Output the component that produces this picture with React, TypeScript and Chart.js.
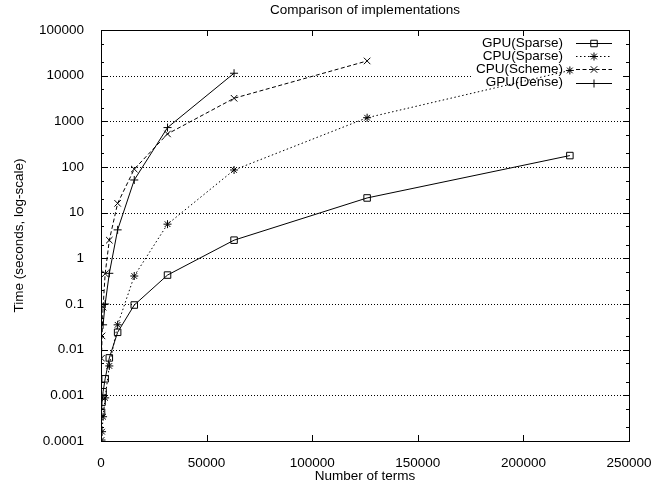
import React, { useEffect, useRef } from 'react';
import { Chart, registerables } from 'chart.js';

Chart.register(...registerables);

const chartTitle = 'Comparison of implementations';
const xAxisTitle = 'Number of terms';
const yAxisTitle = 'Time (seconds, log-scale)';

const gpuSparseTerms = [246, 492, 984, 1968, 3937, 7875, 15750, 31500, 63000, 126000, 222000];
const gpuSparseTimes = [0.00043, 0.00071, 0.0012, 0.0023, 0.0066, 0.024, 0.095, 0.43, 2.5, 21, 178];
const cpuSparseTerms = [246, 492, 984, 1968, 3937, 7875, 15750, 31500, 63000, 126000, 222000];
const cpuSparseTimes = [0.000105, 0.00016, 0.00034, 0.00088, 0.0044, 0.035, 0.41, 5.6, 86, 1200, 13000];
const cpuSchemeTerms = [246, 492, 984, 1968, 3937, 7875, 15750, 31500, 63000, 126000];
const cpuSchemeTimes = [0.0065, 0.02, 0.085, 0.46, 2.5, 16, 90, 530, 3200, 21000];
const gpuDenseTerms = [984, 1968, 3937, 7875, 15750, 31500, 63000];
const gpuDenseTimes = [0.035, 0.1, 0.47, 4.2, 52, 730, 11300];

const xTickValues = [0, 50000, 100000, 150000, 200000, 250000];
const xTickLabels = ['0', '50000', '100000', '150000', '200000', '250000'];
const yDecades = [0.0001, 0.001, 0.01, 0.1, 1, 10, 100, 1000, 10000, 100000];
const yTickLabels = ['0.0001', '0.001', '0.01', '0.1', '1', '10', '100', '1000', '10000', '100000'];
const yMinorMantissas = [2, 5];
const seriesLabels = ['GPU(Sparse)', 'CPU(Sparse)', 'CPU(Scheme)', 'GPU(Dense)'];

const FONT = "'Liberation Sans', Arial, Helvetica, sans-serif";
const FS = 13.5;

const KEY = { left: 472, top: 35, bottom: 90, textRight: 563, lineStart: 576, lineEnd: 612, markX: 594, row0: 43, rowStep: 13.2 };

const toPoints = (xs: number[], ys: number[]) => xs.map((x, i) => ({ x, y: ys[i] }));

function drawMarker(ctx: CanvasRenderingContext2D, style: string, r: number, x: number, y: number) {
  ctx.beginPath();
  const c = Math.SQRT1_2 * r;
  if (style === 'rect') {
    ctx.rect(x - c, y - c, 2 * c, 2 * c);
  } else if (style === 'cross' || style === 'star') {
    ctx.moveTo(x - r, y); ctx.lineTo(x + r, y);
    ctx.moveTo(x, y - r); ctx.lineTo(x, y + r);
  }
  if (style === 'crossRot' || style === 'star') {
    ctx.moveTo(x - c, y - c); ctx.lineTo(x + c, y + c);
    ctx.moveTo(x + c, y - c); ctx.lineTo(x - c, y + c);
  }
  ctx.stroke();
}

const gnuplotPlugin = {
  id: 'gnuplotLook',
  beforeDatasetsDraw(chart: any) {
    const { ctx, chartArea: a, scales } = chart;
    const ys = scales.y;
    ctx.save();
    ctx.strokeStyle = '#000';
    ctx.lineWidth = 1;
    ctx.setLineDash([1, 2]);
    yDecades.forEach((d) => {
      const py = Math.round(ys.getPixelForValue(d)) + 0.5;
      if (py <= a.top + 1 || py >= a.bottom - 1) return;
      const xEnd = py > KEY.top && py < KEY.bottom ? KEY.left : a.right;
      ctx.beginPath();
      ctx.moveTo(a.left, py);
      ctx.lineTo(xEnd, py);
      ctx.stroke();
    });
    ctx.restore();
  },
  afterDatasetsDraw(chart: any) {
    const { ctx, chartArea: a, scales } = chart;
    const xs = scales.x;
    const ys = scales.y;
    const L = Math.round(a.left), R = Math.round(a.right), T = Math.round(a.top), B = Math.round(a.bottom);
    ctx.save();
    ctx.strokeStyle = '#000';
    ctx.lineWidth = 1;
    ctx.setLineDash([]);
    // frame
    ctx.strokeRect(L + 0.5, T + 0.5, R - L, B - T);
    // y ticks (major + minor), inward on both sides
    ys.ticks.forEach((t: any) => {
      const v = t.value;
      const e = Math.floor(Math.log10(v) + 1e-9);
      const mant = v / Math.pow(10, e);
      const m = Math.round(mant);
      if (Math.abs(mant - m) > 1e-6) return;
      const len = m === 1 ? 6 : yMinorMantissas.includes(m) ? 3 : 0;
      if (!len) return;
      const py = Math.round(ys.getPixelForValue(v)) + 0.5;
      ctx.beginPath();
      ctx.moveTo(L, py); ctx.lineTo(L + len, py);
      ctx.moveTo(R, py); ctx.lineTo(R - len, py);
      ctx.stroke();
    });
    // x ticks inward bottom & top
    xTickValues.forEach((v) => {
      const px = Math.round(xs.getPixelForValue(v)) + 0.5;
      ctx.beginPath();
      ctx.moveTo(px, B); ctx.lineTo(px, B - 6);
      ctx.moveTo(px, T); ctx.lineTo(px, T + 6);
      ctx.stroke();
    });
    // title
    ctx.fillStyle = '#000';
    ctx.font = `${FS}px ${FONT}`;
    ctx.textAlign = 'center';
    ctx.textBaseline = 'middle';
    ctx.fillText(chartTitle, (a.left + a.right) / 2, 10);
    // key
    ctx.textAlign = 'right';
    seriesLabels.forEach((label, i) => {
      const ds = chart.data.datasets[i];
      const yy = KEY.row0 + i * KEY.rowStep;
      ctx.fillText(label, KEY.textRight, yy);
      const ly = Math.round(yy) + 0.5;
      ctx.setLineDash(ds.borderDash || []);
      ctx.beginPath();
      ctx.moveTo(KEY.lineStart, ly);
      ctx.lineTo(KEY.lineEnd, ly);
      ctx.stroke();
      ctx.setLineDash([]);
      drawMarker(ctx, ds.pointStyle, ds.pointRadius, KEY.markX, ly);
    });
    ctx.restore();
  },
};

export default function App() {
  const ref = useRef<HTMLCanvasElement>(null);
  useEffect(() => {
    if (!ref.current) return;
    const common = {
      borderColor: '#000',
      borderWidth: 1,
      pointBorderColor: '#000',
      pointBackgroundColor: 'rgba(0,0,0,0)',
      pointBorderWidth: 1,
      tension: 0,
      fill: false,
    };
    const chart = new Chart(ref.current, {
      type: 'line',
      data: {
        datasets: [
          { ...common, label: seriesLabels[0], data: toPoints(gpuSparseTerms, gpuSparseTimes), pointStyle: 'rect', pointRadius: 4.6 },
          { ...common, label: seriesLabels[1], data: toPoints(cpuSparseTerms, cpuSparseTimes), pointStyle: 'star', pointRadius: 4, borderDash: [1.5, 2.5] },
          { ...common, label: seriesLabels[2], data: toPoints(cpuSchemeTerms, cpuSchemeTimes), pointStyle: 'crossRot', pointRadius: 4.6, borderDash: [4, 2.5] },
          { ...common, label: seriesLabels[3], data: toPoints(gpuDenseTerms, gpuDenseTimes), pointStyle: 'cross', pointRadius: 4 },
        ] as any,
      },
      options: {
        animation: false,
        responsive: false,
        maintainAspectRatio: false,
        layout: { padding: { top: 30, right: 37, left: 0, bottom: 0 } },
        plugins: {
          legend: { display: false },
          tooltip: { enabled: false },
          title: { display: false },
        },
        scales: {
          x: {
            type: 'linear',
            min: 0,
            max: 250000,
            grid: { display: false },
            border: { display: false },
            ticks: {
              stepSize: 50000,
              autoSkip: false,
              maxRotation: 0,
              padding: 6,
              color: '#000',
              font: { family: FONT, size: FS },
              callback: (v: any) => {
                const i = xTickValues.indexOf(Number(v));
                return i >= 0 ? xTickLabels[i] : '';
              },
            },
            title: {
              display: true,
              text: xAxisTitle,
              color: '#000',
              font: { family: FONT, size: FS },
              padding: { top: 0, bottom: 0 },
            },
            afterFit: (s: any) => { s.height = 43; },
          },
          y: {
            type: 'logarithmic',
            min: 0.0001,
            max: 100000,
            grid: { display: false },
            border: { display: false },
            ticks: {
              autoSkip: false,
              padding: 9,
              color: '#000',
              font: { family: FONT, size: FS },
              callback: (v: any) => {
                const l = Math.log10(Number(v));
                const idx = yDecades.findIndex((d) => Math.abs(Math.log10(d) - l) < 1e-6);
                return idx >= 0 ? yTickLabels[idx] : '';
              },
            },
            title: {
              display: true,
              text: yAxisTitle,
              color: '#000',
              font: { family: FONT, size: FS },
              padding: { top: 11, bottom: 0 },
            },
            afterFit: (s: any) => { s.width = 101; },
          },
        },
      } as any,
      plugins: [gnuplotPlugin],
    });
    return () => chart.destroy();
  }, []);
  return (
    <div style={{ position: 'fixed', left: 0, top: 0, width: 666, height: 484, background: '#fff' }}>
      <canvas ref={ref} width={666} height={484} style={{ display: 'block', width: 666, height: 484 }} />
    </div>
  );
}
